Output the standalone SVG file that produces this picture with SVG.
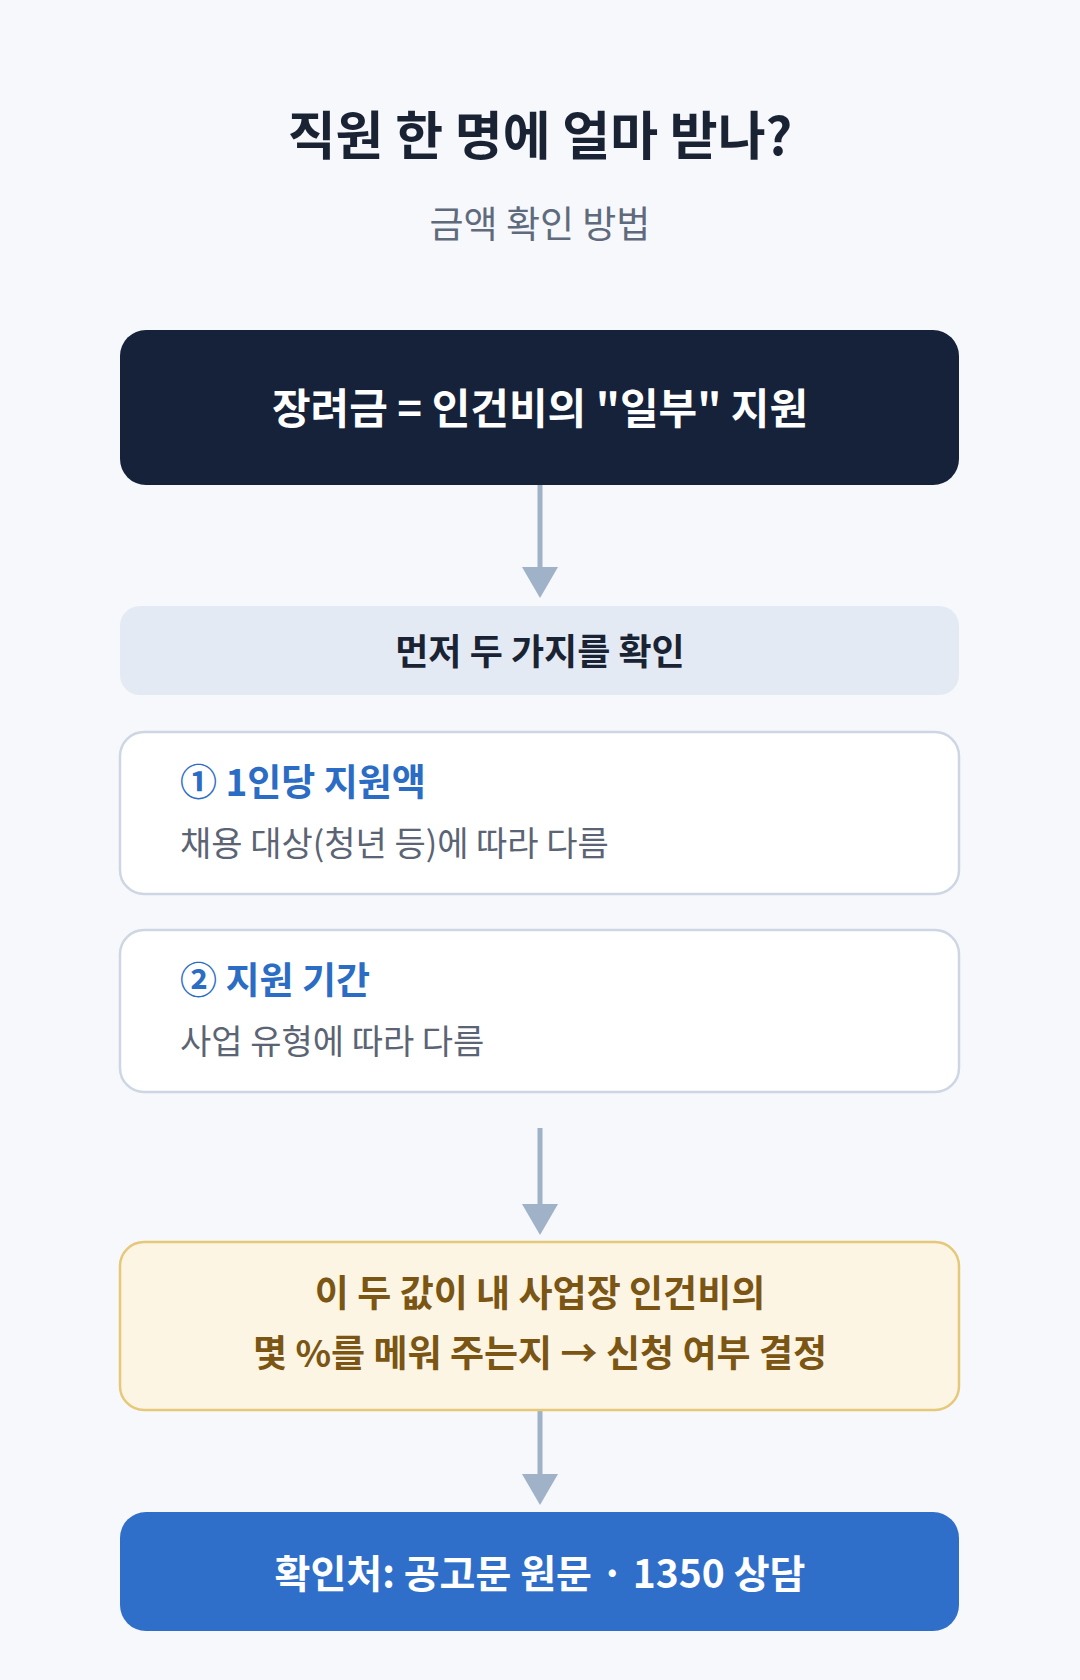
<svg xmlns="http://www.w3.org/2000/svg" width="1080" height="1680" viewBox="0 0 1080 1680">
<defs>
<style>
text{font-family:"Noto Sans CJK KR","Noto Sans",sans-serif;text-anchor:middle}
.b{font-weight:700}
.card{fill:#ffffff;stroke:#cdd6e2;stroke-width:2.5}
.ct{fill:#2b6cc4;font-size:37px;font-weight:700;text-anchor:start}
.cs{fill:#5b6474;font-size:34px;text-anchor:start}
.conn{stroke:#9fb2c7;stroke-width:5;fill:none}
</style>
<marker id="ah" markerWidth="8" markerHeight="7" refX="0" refY="3.5" orient="auto" markerUnits="userSpaceOnUse" viewBox="0 0 8 7"><path d="M0,0 L8,3.5 L0,7z" fill="#9fb2c7"/></marker>
</defs>
<rect width="1080" height="1680" fill="#f6f8fc"/>
<g id="title">
<text x="540" y="155" font-size="52" class="b" fill="#1a2333">직원 한 명에 얼마 받나?</text>
<text x="540" y="238" font-size="37" fill="#5f6b7c">금액 확인 방법</text>
</g>
<g id="connectors">
<line class="conn" x1="540" y1="485" x2="540" y2="570"/><path d="M522,567 L558,567 L540,598z" fill="#9fb2c7"/>
<line class="conn" x1="540" y1="1128" x2="540" y2="1207"/><path d="M522,1204 L558,1204 L540,1235z" fill="#9fb2c7"/>
<line class="conn" x1="540" y1="1410" x2="540" y2="1477"/><path d="M522,1474 L558,1474 L540,1505z" fill="#9fb2c7"/>
</g>
<g id="n1">
<rect x="120" y="330" width="839" height="155" rx="26" fill="#15223a"/>
<text x="540" y="424" font-size="42" class="b" fill="#ffffff">장려금 = 인건비의 "일부" 지원</text>
</g>
<g id="n2">
<rect x="120" y="606" width="839" height="89" rx="20" fill="#e4eaf4"/>
<text x="540" y="665" font-size="36" class="b" fill="#1a2333">먼저 두 가지를 확인</text>
</g>
<g id="n3">
<rect class="card" x="120" y="732" width="839" height="162" rx="24"/>
<text class="ct" x="180" y="796">① 1인당 지원액</text>
<text class="cs" x="180" y="856">채용 대상(청년 등)에 따라 다름</text>
</g>
<g id="n4">
<rect class="card" x="120" y="930" width="839" height="162" rx="24"/>
<text class="ct" x="180" y="994">② 지원 기간</text>
<text class="cs" x="180" y="1054">사업 유형에 따라 다름</text>
</g>
<g id="n5">
<rect x="120" y="1242" width="839" height="168" rx="24" fill="#fdf5e4" stroke="#e6c879" stroke-width="2.5"/>
<text x="540" y="1307" font-size="37" class="b" fill="#7a5514">이 두 값이 내 사업장 인건비의</text>
<text x="540" y="1367" font-size="37" class="b" fill="#7a5514">몇 %를 메워 주는지 → 신청 여부 결정</text>
</g>
<g id="n6">
<rect x="120" y="1512" width="839" height="119" rx="26" fill="#2f6fca"/>
<text x="540" y="1588" font-size="39" class="b" fill="#ffffff">확인처: 공고문 원문 · 1350 상담</text>
</g>
</svg>
